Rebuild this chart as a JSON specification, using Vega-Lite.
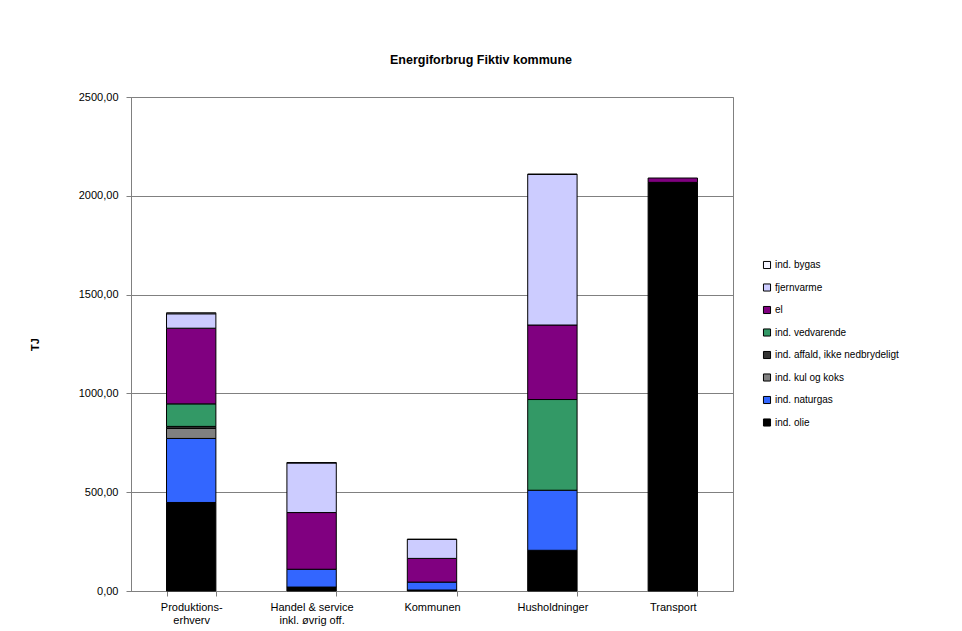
{
  "$schema": "https://vega.github.io/schema/vega-lite/v6.json",
  "width": 602,
  "height": 494,
  "autosize": "none",
  "padding": {"left": 131, "top": 97, "right": 229, "bottom": 40},
  "background": "white",
  "title": {
    "text": "Energiforbrug Fiktiv kommune",
    "font": "Liberation Sans",
    "fontSize": 12.5,
    "fontWeight": "bold",
    "color": "#000000",
    "anchor": "middle",
    "dx": 49,
    "offset": 25
  },
  "data": {
    "values": [
      {"sektor": "Produktions-|erhverv", "kilde": "ind. olie", "o": 1, "tj": 448},
      {"sektor": "Produktions-|erhverv", "kilde": "ind. naturgas", "o": 2, "tj": 324},
      {"sektor": "Produktions-|erhverv", "kilde": "ind. kul og koks", "o": 3, "tj": 51},
      {"sektor": "Produktions-|erhverv", "kilde": "ind. affald, ikke nedbrydeligt", "o": 4, "tj": 10},
      {"sektor": "Produktions-|erhverv", "kilde": "ind. vedvarende", "o": 5, "tj": 114},
      {"sektor": "Produktions-|erhverv", "kilde": "el", "o": 6, "tj": 383},
      {"sektor": "Produktions-|erhverv", "kilde": "fjernvarme", "o": 7, "tj": 73},
      {"sektor": "Produktions-|erhverv", "kilde": "ind. bygas", "o": 8, "tj": 5},
      {"sektor": "Handel & service|inkl. øvrig off.", "kilde": "ind. olie", "o": 1, "tj": 20},
      {"sektor": "Handel & service|inkl. øvrig off.", "kilde": "ind. naturgas", "o": 2, "tj": 90},
      {"sektor": "Handel & service|inkl. øvrig off.", "kilde": "el", "o": 6, "tj": 287},
      {"sektor": "Handel & service|inkl. øvrig off.", "kilde": "fjernvarme", "o": 7, "tj": 251},
      {"sektor": "Handel & service|inkl. øvrig off.", "kilde": "ind. bygas", "o": 8, "tj": 2},
      {"sektor": "Kommunen", "kilde": "ind. olie", "o": 1, "tj": 5},
      {"sektor": "Kommunen", "kilde": "ind. naturgas", "o": 2, "tj": 40},
      {"sektor": "Kommunen", "kilde": "el", "o": 6, "tj": 120},
      {"sektor": "Kommunen", "kilde": "fjernvarme", "o": 7, "tj": 96},
      {"sektor": "Kommunen", "kilde": "ind. bygas", "o": 8, "tj": 1},
      {"sektor": "Husholdninger", "kilde": "ind. olie", "o": 1, "tj": 206},
      {"sektor": "Husholdninger", "kilde": "ind. naturgas", "o": 2, "tj": 304},
      {"sektor": "Husholdninger", "kilde": "ind. vedvarende", "o": 5, "tj": 459},
      {"sektor": "Husholdninger", "kilde": "el", "o": 6, "tj": 377},
      {"sektor": "Husholdninger", "kilde": "fjernvarme", "o": 7, "tj": 762},
      {"sektor": "Husholdninger", "kilde": "ind. bygas", "o": 8, "tj": 2},
      {"sektor": "Transport", "kilde": "ind. olie", "o": 1, "tj": 2068},
      {"sektor": "Transport", "kilde": "el", "o": 6, "tj": 22}
    ]
  },
  "mark": {"type": "bar", "stroke": "#000000", "strokeWidth": 1},
  "encoding": {
    "x": {
      "field": "sektor",
      "type": "nominal",
      "sort": null,
      "scale": {"paddingInner": 0.59, "paddingOuter": 0.295},
      "axis": {
        "title": null,
        "labelAngle": 0,
        "labelExpr": "split(datum.label, '|')",
        "tickBand": "extent",
        "labelFont": "Liberation Sans",
        "labelFontSize": 11,
        "labelColor": "#000000",
        "labelPadding": 5,
        "domainColor": "#808080",
        "tickColor": "#808080",
        "tickSize": 5
      }
    },
    "y": {
      "field": "tj",
      "type": "quantitative",
      "aggregate": "sum",
      "stack": "zero",
      "scale": {"domain": [0, 2500], "nice": false},
      "axis": {
        "title": "TJ",
        "titleFont": "Liberation Sans",
        "titleFontSize": 11,
        "titleFontWeight": "bold",
        "titleColor": "#000000",
        "titlePadding": 38,
        "values": [0, 500, 1000, 1500, 2000, 2500],
        "labelExpr": "replace(format(datum.value, '.2f'), '.', ',')",
        "labelFont": "Liberation Sans",
        "labelFontSize": 11,
        "labelColor": "#000000",
        "labelPadding": 8,
        "grid": true,
        "gridColor": "#808080",
        "gridOpacity": 1,
        "domainColor": "#808080",
        "tickColor": "#808080",
        "tickSize": 5
      }
    },
    "color": {
      "field": "kilde",
      "type": "nominal",
      "scale": {
        "domain": ["ind. bygas", "fjernvarme", "el", "ind. vedvarende", "ind. affald, ikke nedbrydeligt", "ind. kul og koks", "ind. naturgas", "ind. olie"],
        "range": ["#F4F4FF", "#CCCCFF", "#800080", "#339966", "#333333", "#808080", "#3366FF", "#000000"]
      },
      "legend": {
        "title": null,
        "orient": "none",
        "legendX": 631,
        "legendY": 163,
        "symbolType": "square",
        "symbolSize": 50,
        "symbolStrokeColor": "#000000",
        "symbolStrokeWidth": 1,
        "labelFont": "Liberation Sans",
        "labelFontSize": 10,
        "labelColor": "#000000",
        "labelOffset": 3,
        "rowPadding": 10.5
      }
    },
    "order": {"field": "o", "type": "quantitative", "sort": "ascending"}
  },
  "config": {
    "view": {"stroke": "#808080", "strokeWidth": 1}
  }
}
